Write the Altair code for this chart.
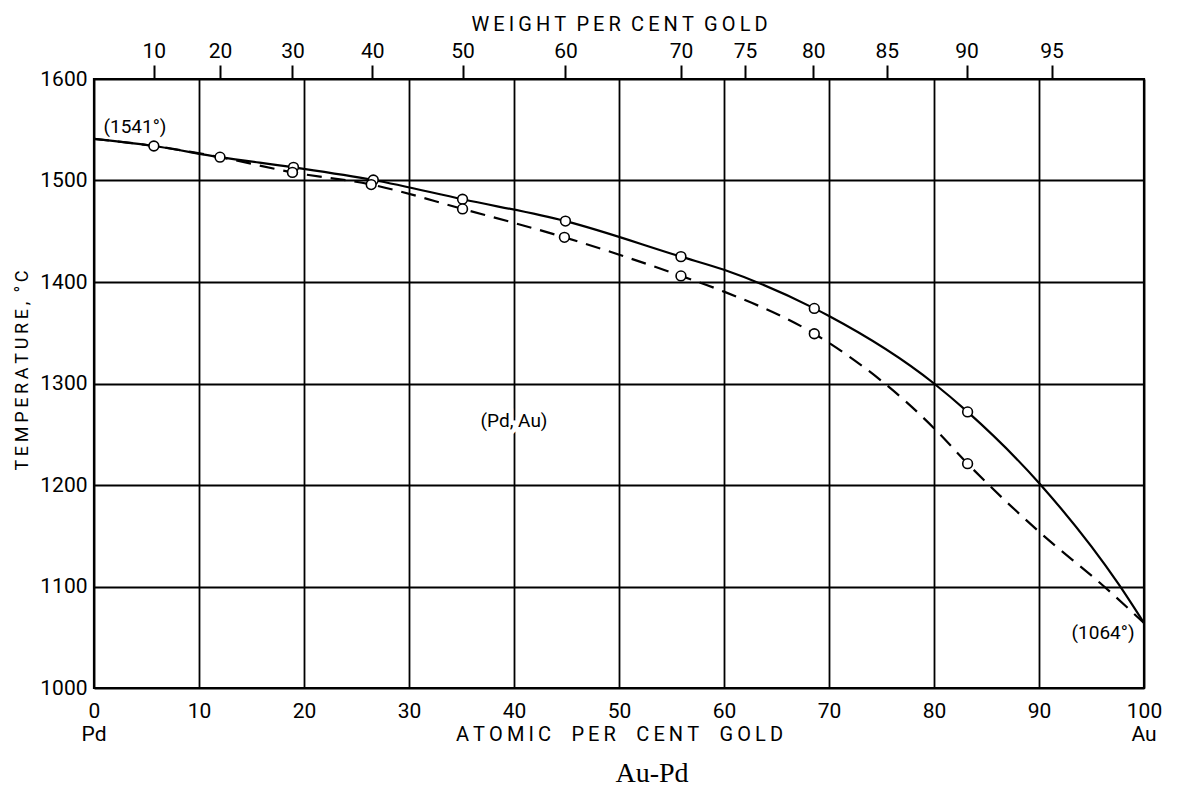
import altair as alt
import pandas as pd

# ---- data ----
# Liquidus (solid curve) in atomic % Au vs temperature
liq_x = [0, 5.7, 12.0, 19.0, 26.6, 35.1, 44.9, 55.9, 60.0, 68.6, 70.0, 80.0, 83.2, 90.0, 97.6, 100]
liq_t = [1541, 1534, 1523, 1513, 1500.5, 1481.5, 1460, 1425, 1412, 1374, 1366.5, 1300, 1272, 1202, 1102, 1064]
# Solidus (dashed curve)
sol_x = [0, 5.7, 12.0, 18.9, 26.4, 35.1, 44.8, 55.9, 60.0, 68.6, 70.0, 80.0, 83.2, 90.0, 96.2, 100]
sol_t = [1541, 1534, 1523, 1508, 1496, 1472, 1444, 1406, 1390.5, 1349, 1340, 1256, 1221, 1154, 1100, 1064]
# Measured points (open circles)
liq_pts_x = [5.7, 12.0, 19.0, 26.6, 35.1, 44.9, 55.9, 68.6, 83.2]
liq_pts_t = [1534, 1523, 1513, 1500.5, 1481.5, 1460, 1425, 1374, 1272]
sol_pts_x = [18.9, 26.4, 35.1, 44.8, 55.9, 68.6, 83.2]
sol_pts_t = [1508, 1496, 1472, 1444, 1406, 1349, 1221]

# Top axis: weight per cent gold labels and their atomic-% positions
wt_labels = ["10", "20", "30", "40", "50", "60", "70", "75", "80", "85", "90", "95"]
wt_at = [5.7, 12.0, 18.9, 26.5, 35.1, 44.9, 55.9, 62.0, 68.5, 75.5, 83.1, 91.2]

# Bottom axis / left axis ticks
at_ticks = [0, 10, 20, 30, 40, 50, 60, 70, 80, 90, 100]
t_ticks = [1000, 1100, 1200, 1300, 1400, 1500, 1600]

# Annotations
ann_text = ["(1541°)", "(1064°)", "(Pd, Au)"]
ann_x = [3.9, 96.1, 40.0]
ann_t = [1553, 1054.5, 1263]
elem_text = ["Pd", "Au"]
elem_x = [0, 100]

FONT = "Roboto"


def spaced(s, word_gap="\u2002"):
    return word_gap.join("\u2009".join(w) for w in s.split(" "))


liq = pd.DataFrame({"x": liq_x, "t": liq_t})
sol = pd.DataFrame({"x": sol_x, "t": sol_t})
liq_pts = pd.DataFrame({"x": liq_pts_x, "t": liq_pts_t})
sol_pts = pd.DataFrame({"x": sol_pts_x, "t": sol_pts_t})
ann = pd.DataFrame({"label": ann_text, "x": ann_x, "t": ann_t})
elem = pd.DataFrame({"label": elem_text, "x": elem_x})
top_df = pd.DataFrame({"x": wt_at})

xscale = alt.Scale(domain=[0, 100], nice=False, zero=False)
yscale = alt.Scale(domain=[1000, 1600], nice=False, zero=False)

y_axis = alt.Axis(
    values=t_ticks, format="d", tickSize=0, labelPadding=7, labelFontSize=21, labelFont=FONT,
    labelColor="black", grid=True, gridColor="black", gridWidth=1.8, gridOpacity=1,
    domain=False, title=spaced("TEMPERATURE, °C", "\u2002"), titleFont=FONT, titleFontSize=18,
    titleFontWeight="normal", titleColor="black", titleX=-67, titleY=291,
    titleBaseline="alphabetic", titleAngle=270, titleAlign="center",
)
y_enc = alt.Y("t:Q", scale=yscale, axis=y_axis)

bottom_axis = alt.Axis(
    orient="bottom", values=at_ticks, format="d", tickSize=0, labelPadding=12, labelFontSize=21,
    labelFont=FONT, labelColor="black", labelFlush=False, grid=True, gridColor="black",
    gridWidth=1.8, gridOpacity=1, domain=False,
    title=spaced("ATOMIC PER CENT GOLD", "\u2003"),
    titleFont=FONT, titleFontSize=20, titleFontWeight="normal", titleColor="black",
    titleY=52, titleBaseline="alphabetic",
)

label_expr = (
    "[" + ",".join("'" + l + "'" for l in wt_labels) + "]"
    + "[indexof([" + ",".join(str(v) for v in wt_at) + "], datum.value)]"
)
top_axis = alt.Axis(
    orient="top", values=wt_at, labelExpr=label_expr, tickSize=14, tickWidth=2,
    tickColor="black", labelPadding=4, labelFontSize=21, labelFont=FONT,
    labelColor="black", labelFlush=False, labelOverlap=False, grid=False, domain=False,
    title=spaced("WEIGHT PER CENT GOLD", "\u2002"),
    titleFont=FONT, titleFontSize=20, titleFontWeight="normal", titleColor="black",
    titleY=-49, titleBaseline="alphabetic",
)

liq_line = alt.Chart(liq).mark_line(color="black", strokeWidth=2.2, interpolate="monotone").encode(
    x=alt.X("x:Q", scale=xscale, axis=bottom_axis), y=y_enc
)
sol_line = alt.Chart(sol).mark_line(
    color="black", strokeWidth=2.2, strokeDash=[15, 9], interpolate="monotone"
).encode(x=alt.X("x:Q", scale=xscale, axis=None), y=y_enc)

liq_circ = alt.Chart(liq_pts).mark_point(
    shape="circle", size=95, filled=True, fill="white", stroke="black", strokeWidth=1.6, opacity=1
).encode(x=alt.X("x:Q", scale=xscale, axis=None), y=y_enc)
sol_circ = alt.Chart(sol_pts).mark_point(
    shape="circle", size=95, filled=True, fill="white", stroke="black", strokeWidth=1.6, opacity=1
).encode(x=alt.X("x:Q", scale=xscale, axis=None), y=y_enc)

top = alt.Chart(top_df).mark_point(opacity=0).encode(
    x=alt.X("x:Q", scale=xscale, axis=top_axis),
    y=alt.value(0),
)

ann_bg = alt.Chart(ann).mark_text(
    font=FONT, fontSize=19, color="white", stroke="white", strokeWidth=9
).transform_filter(alt.datum.label == "(Pd, Au)").encode(
    x=alt.X("x:Q", scale=xscale, axis=None), y=y_enc, text="label:N"
)
ann_txt = alt.Chart(ann).mark_text(font=FONT, fontSize=19, color="black").encode(
    x=alt.X("x:Q", scale=xscale, axis=None), y=y_enc, text="label:N"
)

elem_txt = alt.Chart(elem).mark_text(
    font=FONT, fontSize=21, color="black", baseline="alphabetic"
).encode(
    x=alt.X("x:Q", scale=xscale, axis=None), y=alt.value(662), text="label:N"
)

title_txt = alt.Chart(pd.DataFrame({"label": ["Au-Pd"]})).mark_text(
    font="Liberation Serif", fontSize=28, color="black", baseline="alphabetic"
).encode(x=alt.value(558), y=alt.value(703), text="label:N")

chart = (
    alt.layer(liq_line, sol_line, ann_bg, ann_txt, liq_circ, sol_circ, top, elem_txt, title_txt)
    .resolve_axis(x="independent")
    .properties(
        width=1050, height=609,
        autosize=alt.AutoSizeParams(type="none"),
        padding={"left": 86, "top": 71, "right": 20, "bottom": 104},
        background="white",
    )
    .configure_view(stroke="black", strokeWidth=2.2)
)

chart.save("out.html", embed_options={"renderer": "svg", "actions": False})
